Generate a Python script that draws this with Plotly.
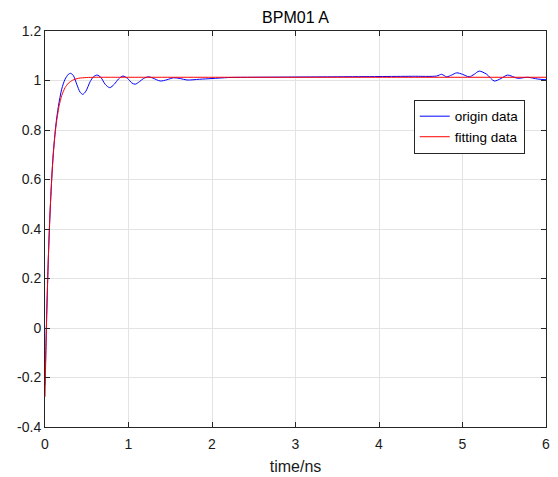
import plotly.graph_objects as go

# ---- data ----
origin_x = [0, 0.01, 0.02, 0.04, 0.06, 0.08, 0.10, 0.13, 0.16, 0.20, 0.24, 0.28, 0.305, 0.34, 0.38,
            0.42, 0.452, 0.49, 0.54, 0.58, 0.624, 0.67, 0.72, 0.775, 0.83, 0.88, 0.934, 0.99, 1.04,
            1.08, 1.13, 1.18, 1.24, 1.29, 1.38, 1.46, 1.54, 1.62, 1.70, 1.85, 2.0, 2.2, 2.5, 3.0,
            3.5, 4.0, 4.4, 4.69, 4.75, 4.81, 4.87, 4.93, 5.0, 5.08, 5.14, 5.20, 5.29, 5.38, 5.46,
            5.54, 5.66, 5.78, 5.9, 6.0]
origin_y = [-0.23, -0.09, 0.05, 0.28, 0.46, 0.60, 0.71, 0.82, 0.895, 0.965, 1.005, 1.025, 1.029,
            1.02, 0.985, 0.953, 0.944, 0.957, 0.995, 1.015, 1.022, 1.012, 0.985, 0.971, 0.985,
            1.006, 1.018, 1.008, 0.99, 0.985, 0.995, 1.008, 1.015, 1.01, 0.998, 1.003, 1.011,
            1.008, 1.002, 1.005, 1.008, 1.012, 1.013, 1.014, 1.015, 1.016, 1.017, 1.018, 1.025,
            1.015, 1.022, 1.031, 1.025, 1.015, 1.025, 1.038, 1.025, 0.998, 1.008, 1.022, 1.009,
            1.013, 1.006, 1.003]

fit_x = [0, 0.01, 0.02, 0.03, 0.04, 0.05, 0.06, 0.08, 0.10, 0.12, 0.14, 0.17, 0.20, 0.24, 0.28,
         0.33, 0.4, 0.5, 0.6, 0.8, 1.0, 2, 3, 4, 5, 6]
fit_y = [-0.278, -0.106, 0.043, 0.173, 0.284, 0.381, 0.465, 0.601, 0.704, 0.781, 0.838, 0.899,
         0.939, 0.971, 0.989, 1.001, 1.009, 1.012, 1.013, 1.013, 1.013, 1.013, 1.013, 1.013,
         1.013, 1.013]

x_ticks = [0, 1, 2, 3, 4, 5, 6]
y_ticks = [-0.4, -0.2, 0, 0.2, 0.4, 0.6, 0.8, 1, 1.2]
y_tick_text = ["-0.4", "-0.2", "0", "0.2", "0.4", "0.6", "0.8", "1", "1.2"]

FONT = "Liberation Sans, Arial, sans-serif"
AX = "#262626"
GRID = "#e3e3e3"

fig = go.Figure()
fig.add_trace(go.Scatter(x=origin_x, y=origin_y, mode="lines", name="origin data",
                         line=dict(color="#0000ff", width=1, shape="spline", smoothing=0.8)))
fig.add_trace(go.Scatter(x=fit_x, y=fit_y, mode="lines", name="fitting data",
                         line=dict(color="#ff0000", width=1, shape="spline", smoothing=0.6)))

axis_common = dict(showline=True, linecolor=AX, linewidth=1, mirror="ticks",
                   ticks="inside", ticklen=5, tickcolor=AX, showgrid=True,
                   gridcolor=GRID, gridwidth=1, zeroline=False, automargin=False,
                   tickfont=dict(family=FONT, size=14, color="#1a1a1a"))

fig.update_xaxes(range=[0, 6], tickvals=x_ticks, ticktext=[str(v) for v in x_ticks],
                 ticklabelstandoff=4,
                 title=dict(text="time/ns", font=dict(family=FONT, size=16, color="#1a1a1a"),
                            standoff=10),
                 **axis_common)
fig.update_yaxes(range=[-0.4, 1.2], tickvals=y_ticks, ticktext=y_tick_text, **axis_common)

fig.update_layout(
    width=558, height=477,
    margin=dict(l=44.5, r=11.5, t=31, b=50),
    paper_bgcolor="white", plot_bgcolor="white",
    title=dict(text="BPM01 A", x=0.5295, xanchor="center", y=0.964, yanchor="middle",
               font=dict(family=FONT, size=16, color="black")),
    showlegend=True,
    legend=dict(x=0.736, y=0.826, xanchor="left", yanchor="top",
                bgcolor="white", bordercolor=AX, borderwidth=1,
                font=dict(family=FONT, size=13.5, color="black"),
                itemwidth=30, tracegroupgap=0),
)

fig.write_html("out.html", config={"displayModeBar": False},
               post_script="document.body.style.margin='0';document.body.style.padding='0';")
